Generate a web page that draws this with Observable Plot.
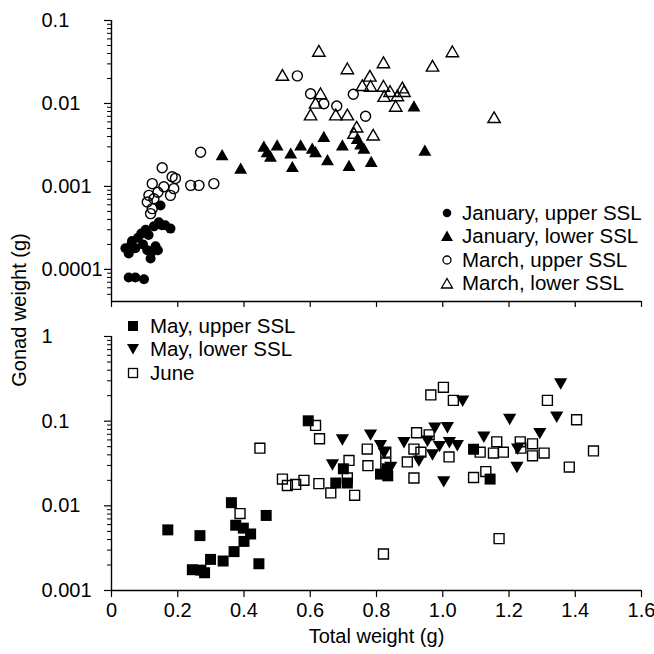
<!DOCTYPE html>
<html><head><meta charset="utf-8">
<script src="https://cdn.jsdelivr.net/npm/d3@7"></script>
<script src="https://cdn.jsdelivr.net/npm/@observablehq/plot@0.6"></script>
<style>
body{margin:0;background:#fff;font-family:"Liberation Sans",Arial,sans-serif;}
#wrap{position:relative;width:654px;height:654px;overflow:hidden;background:#fff;}
#wrap > svg{display:block;}
.leg{position:absolute;font-size:20.5px;color:#000;white-space:nowrap;}
.leg .row{display:flex;align-items:center;height:23.5px;}
.leg .row svg{flex:none;}
#ytitle{position:absolute;left:19px;top:310px;transform:translate(-50%,-50%) rotate(-90deg);font-size:20px;white-space:nowrap;}
</style></head><body><div id="wrap"></div>
<script>
// [total weight (g), gonad weight (g)]
const janUpper = [[0.052,8.0e-5],[0.072,8.0e-5],[0.098,7.6e-5],[0.042,1.8e-4],[0.052,1.55e-4],[0.06,2.0e-4],[0.062,2.2e-4],[0.072,1.8e-4],[0.08,2.4e-4],[0.09,2.7e-4],[0.095,2.0e-4],[0.103,3.0e-4],[0.108,1.7e-4],[0.112,2.6e-4],[0.118,1.35e-4],[0.12,1.6e-4],[0.128,3.3e-4],[0.133,1.9e-4],[0.14,1.7e-4],[0.143,3.7e-4],[0.148,5.9e-4],[0.152,3.4e-4],[0.162,3.4e-4],[0.178,3.1e-4]];
const janLower = [[0.334,2.3e-3],[0.39,1.58e-3],[0.46,2.9e-3],[0.47,2.5e-3],[0.48,2.2e-3],[0.50,3.0e-3],[0.541,2.4e-3],[0.546,1.65e-3],[0.571,3.0e-3],[0.606,2.75e-3],[0.616,2.5e-3],[0.641,3.8e-3],[0.652,2.0e-3],[0.697,3.0e-3],[0.717,1.7e-3],[0.742,3.6e-3],[0.752,3.1e-3],[0.762,2.75e-3],[0.784,1.9e-3],[0.913,8.9e-3],[0.946,2.6e-3]];
const marchUpper = [[0.108,6.5e-4],[0.113,7.8e-4],[0.118,4.7e-4],[0.123,5.4e-4],[0.123,1.08e-3],[0.128,7.1e-4],[0.14,8.5e-4],[0.153,1.68e-3],[0.158,9.9e-4],[0.178,7.8e-4],[0.183,1.31e-3],[0.188,9.4e-4],[0.193,1.25e-3],[0.239,1.03e-3],[0.264,1.03e-3],[0.269,2.58e-3],[0.309,1.08e-3],[0.561,0.0215],[0.601,0.0131],[0.641,9.9e-3],[0.68,9.3e-3],[0.73,0.0129],[0.767,7.0e-3]];
const marchLower = [[0.516,0.021],[0.601,7.0e-3],[0.616,9.7e-3],[0.626,0.041],[0.631,0.0126],[0.677,7.0e-3],[0.712,0.0252],[0.712,7.0e-3],[0.732,4.2e-3],[0.740,5.0e-3],[0.757,0.0158],[0.780,0.0205],[0.782,0.0155],[0.79,4.0e-3],[0.821,0.0298],[0.821,0.0155],[0.823,0.0117],[0.841,0.0134],[0.858,8.9e-3],[0.863,0.0119],[0.878,0.0148],[0.883,0.0134],[0.969,0.0271],[1.029,0.0404],[1.155,6.5e-3]];
const mayUpper = [[0.170,5.2e-3],[0.244,1.76e-3],[0.267,4.45e-3],[0.270,1.74e-3],[0.281,1.62e-3],[0.299,2.33e-3],[0.337,2.23e-3],[0.362,0.0109],[0.370,2.88e-3],[0.375,5.9e-3],[0.398,5.45e-3],[0.40,3.8e-3],[0.42,4.65e-3],[0.445,2.07e-3],[0.467,7.7e-3],[0.594,0.101],[0.677,0.0186],[0.70,0.0274],[0.712,0.0186],[0.812,0.0237],[0.832,0.0274],[0.834,0.0226],[1.093,0.0466],[1.143,0.0207]];
const mayLower = [[0.667,0.032],[0.697,0.063],[0.782,0.072],[0.812,0.054],[0.823,0.044],[0.843,0.0298],[0.883,0.0585],[0.928,0.0355],[0.954,0.061],[0.969,0.042],[0.976,0.087],[0.99,0.0527],[1.003,0.0202],[1.014,0.088],[1.02,0.0585],[1.044,0.054],[1.06,0.181],[1.124,0.068],[1.202,0.11],[1.224,0.0298],[1.226,0.049],[1.293,0.075],[1.344,0.117],[1.356,0.29]];
const june = [[0.388,8.1e-3],[0.448,0.048],[0.516,0.0207],[0.531,0.0174],[0.556,0.0179],[0.581,0.020],[0.616,0.089],[0.626,0.0183],[0.628,0.062],[0.662,0.0142],[0.712,0.0213],[0.717,0.0344],[0.734,0.0133],[0.772,0.0468],[0.774,0.0298],[0.821,0.0027],[0.828,0.043],[0.828,0.032],[0.893,0.033],[0.913,0.0213],[0.913,0.0468],[0.921,0.073],[0.934,0.043],[0.959,0.069],[0.964,0.204],[1.002,0.251],[1.019,0.0378],[1.032,0.176],[1.093,0.0216],[1.113,0.043],[1.130,0.0254],[1.153,0.042],[1.163,0.057],[1.17,0.0041],[1.183,0.043],[1.234,0.057],[1.236,0.048],[1.271,0.054],[1.271,0.039],[1.306,0.042],[1.316,0.176],[1.382,0.0287],[1.404,0.104],[1.455,0.0445]];

const xTicks = [0,0.2,0.4,0.6,0.8,1.0,1.2,1.4,1.6];
const xTickLabels = ["0","0.2","0.4","0.6","0.8","1.0","1.2","1.4","1.6"];
const topYTicks = [0.1,0.01,0.001,0.0001];
const topYTickLabels = ["0.1","0.01","0.001","0.0001"];
const bottomYTicks = [1,0.1,0.01,0.001];
const bottomYTickLabels = ["1","0.1","0.01","0.001"];
const topYDomain = [4.1e-5, 0.1];
const bottomYDomain = [0.001, 1];
const xDomain = [0, 1.6];

const topLegend = ["January, upper SSL","January, lower SSL","March, upper SSL","March, lower SSL"];
const bottomLegend = ["May, upper SSL","May, lower SSL","June"];
const xTitle = "Total weight (g)";
const yTitle = "Gonad weight (g)";

const FONT = '"Liberation Sans", Arial, sans-serif';
function minorTicks(domain){
  const out=[];
  for(let e=-6;e<=1;e++) for(let m=2;m<=9;m++){const v=m*Math.pow(10,e); if(v>=domain[0]*0.999 && v<=domain[1]*1.001) out.push(v);}
  return out;
}
const X = d=>d[0], Y = d=>d[1];

function yAxisMarks(ticks, labels, domain){
  return [
    Plot.axisY({ticks: minorTicks(domain), tickSize: 4, tickFormat: () => "", label: null, strokeWidth: 1}),
    Plot.axisY({ticks: ticks, tickSize: 7, tickFormat: () => "", label: null, strokeWidth: 1.2}),
    Plot.ruleX([0], {strokeWidth: 1.4}),
    Plot.text(ticks, {y: d=>d, text: (d,i)=>labels[i], frameAnchor: "left", textAnchor: "start", dx: -70, fontSize: 20, fill: "black"})
  ];
}

const topPlot = Plot.plot({
  width: 654, height: 310,
  marginLeft: 111, marginRight: 13, marginTop: 20, marginBottom: 9,
  style: {fontFamily: FONT, fontSize: "20px", background: "white", color: "black", overflow: "visible"},
  x: {domain: xDomain},
  y: {type: "log", domain: topYDomain},
  marks: [
    ...yAxisMarks(topYTicks, topYTickLabels, topYDomain),
    Plot.axisX({ticks: xTicks, tickSize: 6, tickFormat: () => "", label: null, strokeWidth: 1.2}),
    Plot.ruleY([topYDomain[0]], {strokeWidth: 1.4}),
    Plot.dot(janUpper, {x: X, y: Y, symbol: "circle", r: 5, fill: "black"}),
    Plot.dot(janLower, {x: X, y: Y, symbol: "triangle", r: 4.8, fill: "black"}),
    Plot.dot(marchUpper, {x: X, y: Y, symbol: "circle", r: 5, fill: "none", stroke: "black", strokeWidth: 1.4}),
    Plot.dot(marchLower, {x: X, y: Y, symbol: "triangle", r: 4.6, fill: "none", stroke: "black", strokeWidth: 1.4})
  ]
});

const bottomPlot = Plot.plot({
  width: 654, height: 344,
  marginLeft: 111, marginRight: 13, marginTop: 26, marginBottom: 64,
  style: {fontFamily: FONT, fontSize: "20px", background: "white", color: "black", overflow: "visible"},
  x: {domain: xDomain},
  y: {type: "log", domain: bottomYDomain},
  marks: [
    ...yAxisMarks(bottomYTicks, bottomYTickLabels, bottomYDomain),
    Plot.axisX({ticks: xTicks, tickSize: 7, tickPadding: 5, tickFormat: d => xTickLabels[xTicks.indexOf(d)], label: null, fontSize: 20, strokeWidth: 1.2}),
    Plot.ruleY([bottomYDomain[0]], {strokeWidth: 1.4}),
    Plot.text([xTitle], {text: d=>d, frameAnchor: "bottom", dy: 52, fontSize: 20, fill: "black"}),
    Plot.dot(june, {x: X, y: Y, symbol: "square", r: 5.6, fill: "none", stroke: "black", strokeWidth: 1.4}),
    Plot.dot(mayUpper, {x: X, y: Y, symbol: "square", r: 6.2, fill: "black"}),
    Plot.dot(mayLower, {x: X, y: Y, symbol: "triangle", rotate: 180, r: 4.9, fill: "black"})
  ]
});

const wrap = document.getElementById("wrap");
wrap.appendChild(topPlot);
wrap.appendChild(bottomPlot);

const yt = document.createElement("div");
yt.id = "ytitle"; yt.textContent = yTitle; wrap.appendChild(yt);

function sym(kind){
  const s = {
    fcircle: '<circle cx="7" cy="7" r="4.3" fill="black"/>',
    ftri: '<path d="M7,1.5 L13,12 L1,12 Z" fill="black"/>',
    ocircle: '<circle cx="7" cy="7" r="4" fill="none" stroke="black" stroke-width="1.3"/>',
    otri: '<path d="M7,2.5 L12.5,12 L1.5,12 Z" fill="none" stroke="black" stroke-width="1.3"/>',
    fsq: '<rect x="2" y="2" width="10" height="10" fill="black"/>',
    dtri: '<path d="M1,2 L13,2 L7,12.5 Z" fill="black"/>',
    osq: '<rect x="2.5" y="2.5" width="9" height="9" fill="none" stroke="black" stroke-width="1.3"/>'
  }[kind];
  return '<svg width="14" height="14" viewBox="0 0 14 14">'+s+'</svg>';
}
function legend(items, kinds, left, top, gap){
  const d = document.createElement("div");
  d.className = "leg"; d.style.left = left+"px"; d.style.top = top+"px";
  items.forEach((t,i)=>{
    const r = document.createElement("div"); r.className="row";
    r.innerHTML = sym(kinds[i]);
    r.firstChild.style.marginRight = gap + "px";
    const sp = document.createElement("span"); sp.textContent = t; r.appendChild(sp);
    d.appendChild(r);
  });
  wrap.appendChild(d);
}
legend(topLegend, ["fcircle","ftri","ocircle","otri"], 440, 201, 8);
legend(bottomLegend, ["fsq","dtri","osq"], 126, 314, 10);
</script></body></html>
